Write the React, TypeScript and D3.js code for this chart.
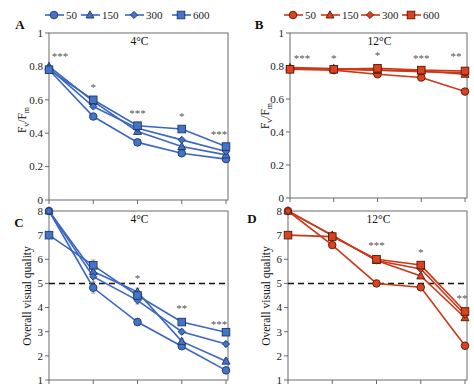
import React from "react";
import * as d3 from "d3";

const days = [0, 1, 2, 3, 4];
const series = ["50", "150", "300", "600"];
const markers = ["circle", "triangle", "diamond", "square"];

// Fv/Fm 4°C
const fvA_50 = [0.78, 0.5, 0.345, 0.28, 0.245];
const fvA_150 = [0.8, 0.59, 0.41, 0.32, 0.27];
const fvA_300 = [0.79, 0.56, 0.43, 0.36, 0.29];
const fvA_600 = [0.78, 0.6, 0.445, 0.425, 0.32];
// Fv/Fm 12°C
const fvB_50 = [0.78, 0.775, 0.75, 0.73, 0.645];
const fvB_150 = [0.79, 0.785, 0.775, 0.77, 0.75];
const fvB_300 = [0.785, 0.78, 0.775, 0.765, 0.76];
const fvB_600 = [0.78, 0.78, 0.786, 0.775, 0.77];
// Overall visual quality 4°C
const ovC_50 = [8, 4.82, 3.4, 2.4, 1.4];
const ovC_150 = [8, 5.49, 4.65, 2.6, 1.78];
const ovC_300 = [8, 5.28, 4.3, 3.0, 2.49];
const ovC_600 = [7, 5.75, 4.5, 3.4, 2.98];
const errC = [0, 0.22, 0.15, 0.1, 0.1];
// Overall visual quality 12°C
const ovD_50 = [8, 6.59, 5.0, 4.84, 2.42];
const ovD_150 = [8, 7.0, 5.95, 5.31, 3.58];
const ovD_300 = [8, 6.98, 5.95, 5.6, 3.7];
const ovD_600 = [7, 6.94, 6.0, 5.76, 3.84];
const errD = [0, 0.1, 0.1, 0.1, 0.1];

const starsA = ["***", "*", "***", "*", "***"];
const starsB = ["***", "*", "*", "***", "**"];
const starsC = ["", "", "*", "**", "***"];
const starsD = ["", "", "***", "*", "**"];

const fvTicks = [0, 0.2, 0.4, 0.6, 0.8, 1];
const ovTicks = [1, 2, 3, 4, 5, 6, 7, 8];

const FONT = "Liberation Serif, Times New Roman, serif";
const BLUE = { line: "#3b66c3", fill: "#4474c8", stroke: "#1e3566" };
const RED = { line: "#cc3818", fill: "#d8441f", stroke: "#5a1508" };

function T(props) {
  const { style, ...rest } = props;
  return <text {...rest} style={{ fontFamily: FONT, ...(style || {}) }} />;
}

function Marker({ type, x, y, c }) {
  const sw = 0.9;
  if (type === "circle") return <circle cx={x} cy={y} r={3.8} fill={c.fill} stroke={c.stroke} strokeWidth={sw} />;
  if (type === "square") return <rect x={x - 3.8} y={y - 3.8} width={7.6} height={7.6} fill={c.fill} stroke={c.stroke} strokeWidth={sw} />;
  if (type === "triangle") return <path d={`M${x},${y - 4.2}L${x + 4},${y + 3}L${x - 4},${y + 3}Z`} fill={c.fill} stroke={c.stroke} strokeWidth={sw} />;
  return <path d={`M${x},${y - 3.6}L${x + 3.6},${y}L${x},${y + 3.6}L${x - 3.6},${y}Z`} fill={c.fill} stroke={c.stroke} strokeWidth={sw} />;
}

function Panel({ box, yDomain, yTicks, data, err, stars, starDy, c, letter, letterPos, title, ylabel, ylabelX, ylabelY, dashed }) {
  const { left, right, top, bottom } = box;
  const x = d3.scaleLinear().domain([0, 4]).range([left, right - 2]);
  const y = d3.scaleLinear().domain(yDomain).range([bottom, top]);
  const line = d3.line().x((d, i) => x(days[i])).y((d) => y(d));
  return (
    <g>
      <rect x={left} y={top} width={right - left} height={bottom - top} fill="white" stroke="#6a6a6a" strokeWidth={1} />
      {yTicks.map((t) => (
        <g key={t}>
          <line x1={left - 4} x2={left} y1={y(t)} y2={y(t)} stroke="#6a6a6a" />
          <T x={left - 6} y={y(t)} dy="0.35em" textAnchor="end" fontSize={11} fill="#222">{String(t)}</T>
        </g>
      ))}
      {days.map((d) => (
        <line key={d} x1={x(d)} x2={x(d)} y1={bottom} y2={bottom + 4} stroke="#6a6a6a" />
      ))}
      {dashed !== undefined && (
        <line x1={left} x2={right} y1={y(dashed)} y2={y(dashed)} stroke="#111" strokeWidth={1.6} strokeDasharray="6,4" />
      )}
      {data.map((s, si) => (
        <path key={si} d={line(s)} fill="none" stroke={c.line} strokeWidth={1.6} />
      ))}
      {err && data.map((s, si) => s.map((v, i) => err[i] > 0 ? (
        <g key={si + "-" + i} stroke="#777" strokeWidth={0.8}>
          <line x1={x(days[i])} x2={x(days[i])} y1={y(v - err[i])} y2={y(v + err[i])} />
          <line x1={x(days[i]) - 2} x2={x(days[i]) + 2} y1={y(v - err[i])} y2={y(v - err[i])} />
          <line x1={x(days[i]) - 2} x2={x(days[i]) + 2} y1={y(v + err[i])} y2={y(v + err[i])} />
        </g>
      ) : null))}
      {data.map((s, si) => s.map((v, i) => (
        <Marker key={si + "m" + i} type={markers[si]} x={x(days[i])} y={y(v)} c={c} />
      )))}
      {stars.map((s, i) => s ? (
        <T key={"s" + i} x={x(days[i]) + starDy[i][0]} y={starDy[i][1]} textAnchor="middle" fontSize={11} fill="#555">{s}</T>
      ) : null)}
      <T x={(left + right) / 2 + 1} y={top + 12} textAnchor="middle" fontSize={11.5} fill="#111">{title}</T>
      <T x={letterPos[0]} y={letterPos[1]} textAnchor="middle" fontSize={13} fontWeight="bold" fill="#111">{letter}</T>
      <g transform={`translate(${ylabelX},${ylabelY}) rotate(-90)`}>
        {ylabel === "fv" ? (
          <T textAnchor="middle" fontSize={11.5} fill="#111">
            F<tspan fontSize={8} dy={3}>v</tspan><tspan dy={-3}>/F</tspan><tspan fontSize={8} dy={3}>m</tspan>
          </T>
        ) : (
          <T textAnchor="middle" fontSize={11.5} fill="#111">{ylabel}</T>
        )}
      </g>
    </g>
  );
}

function Legend({ positions, c }) {
  return (
    <g>
      {series.map((s, i) => {
        const px = positions[i];
        return (
          <g key={s}>
            <line x1={px} x2={px + 19} y1={15} y2={15} stroke={c.line} strokeWidth={1.6} />
            <Marker type={markers[i]} x={px + 9} y={15} c={c} />
            <T x={px + 21} y={15} dy="0.35em" fontSize={11} fill="#222">{s}</T>
          </g>
        );
      })}
    </g>
  );
}

export default function App() {
  const boxA = { left: 49, right: 228, top: 33, bottom: 200 };
  const boxB = { left: 290, right: 467, top: 33, bottom: 198 };
  const boxC = { left: 49, right: 228, top: 211, bottom: 380 };
  const boxD = { left: 288, right: 467, top: 211, bottom: 380 };
  return (
    <svg width={474} height={390} style={{ position: "absolute", left: 0, top: 0, background: "white" }}>
      <Legend positions={[45, 81, 125, 172]} c={BLUE} />
      <Legend positions={[284, 321, 361, 402]} c={RED} />
      <Panel box={boxA} yDomain={[0, 1]} yTicks={fvTicks} data={[fvA_50, fvA_150, fvA_300, fvA_600]} stars={starsA}
        starDy={[[11, 60], [0, 91], [0, 117], [0, 120], [-7, 138]]} c={BLUE} letter="A" letterPos={[20, 29]} title="4°C" ylabel="fv" ylabelX={26} ylabelY={120} />
      <Panel box={boxB} yDomain={[0, 1]} yTicks={fvTicks} data={[fvB_50, fvB_150, fvB_300, fvB_600]} stars={starsB}
        starDy={[[12, 62], [0, 62], [0, 59], [0, 62], [-9, 60]]} c={RED} letter="B" letterPos={[259, 29]} title="12°C" ylabel="fv" ylabelX={269} ylabelY={116} />
      <Panel box={boxC} yDomain={[1, 8]} yTicks={ovTicks} data={[ovC_50, ovC_150, ovC_300, ovC_600]} err={errC} stars={starsC}
        starDy={[[0, 0], [0, 0], [0, 282], [0, 312], [-7, 328]]} c={BLUE} letter="C" letterPos={[19, 227]} title="4°C" ylabel="Overall visual quality" ylabelX={31} ylabelY={296} dashed={5} />
      <Panel box={boxD} yDomain={[1, 8]} yTicks={ovTicks} data={[ovD_50, ovD_150, ovD_300, ovD_600]} err={errD} stars={starsD}
        starDy={[[0, 0], [0, 0], [0, 249], [0, 256], [-3, 302]]} c={RED} letter="D" letterPos={[252, 223]} title="12°C" ylabel="Overall visual quality" ylabelX={270} ylabelY={296} dashed={5} />
    </svg>
  );
}
